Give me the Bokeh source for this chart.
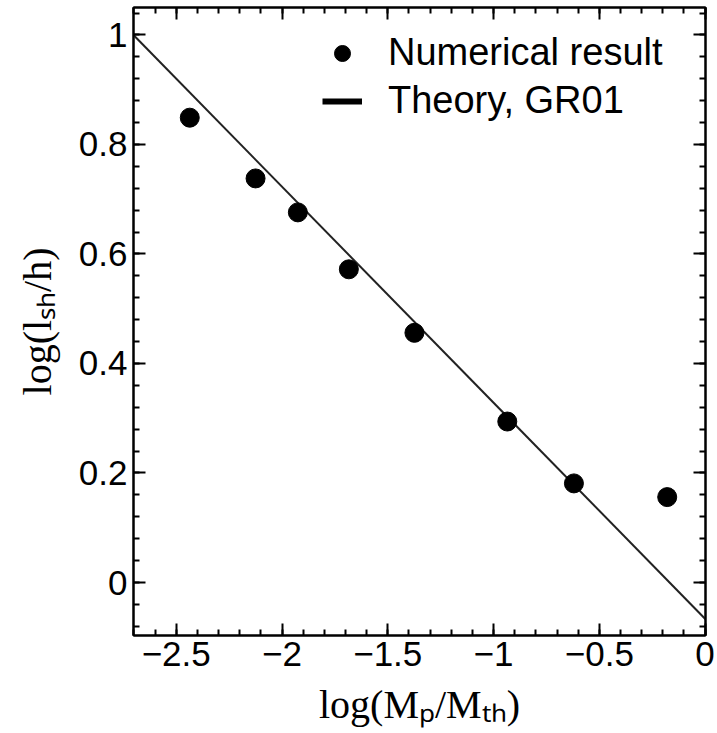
import numpy as np
from bokeh.plotting import figure
from bokeh.models import Range1d, FixedTicker, LinearAxis, Legend, LegendItem
from bokeh.embed import file_html
from bokeh.resources import INLINE

# ---- data ----
log_mass_ratio = [-2.436, -2.125, -1.925, -1.684, -1.374, -0.935, -0.620, -0.179]
log_shock_len = [0.849, 0.738, 0.676, 0.572, 0.456, 0.294, 0.181, 0.156]
theory_x = [-2.702, 0.002]
theory_y = [1.000, -0.067]

x_ticks = [-2.5, -2.0, -1.5, -1.0, -0.5, 0.0]
x_tick_labels = ["\u22122.5", "\u22122", "\u22121.5", "\u22121", "\u22120.5", "0"]
y_ticks = [0.0, 0.2, 0.4, 0.6, 0.8, 1.0]
y_tick_labels = ["0", "0.2", "0.4", "0.6", "0.8", "1"]
x_minor = [round(v, 2) for v in np.arange(-2.7, 0.001, 0.1)]
y_minor = [round(v, 2) for v in np.arange(-0.08, 1.05, 0.04)]

x_title = "log(M\u209a/M\u209c\u2095)"
y_title = "log(l\u209b\u2095/h)"

TICK_FONT = "Liberation Sans"
SERIF = "Liberation Serif"

p = figure(width=717, height=733, output_backend="svg", toolbar_location=None,
           x_range=Range1d(-2.702, 0.002), y_range=Range1d(-0.0968, 1.0502),
           min_border_left=133, min_border_right=12, min_border_top=7, min_border_bottom=98,
           x_axis_location=None, y_axis_location=None)
p.grid.visible = False
p.outline_line_color = "black"
p.outline_line_width = 2
p.background_fill_color = "white"
p.border_fill_color = "white"


def style_axis(ax, ticks, minor, labels, show_labels, standoff):
    ax.ticker = FixedTicker(ticks=ticks, minor_ticks=minor)
    ax.axis_line_color = "black"
    ax.axis_line_width = 2
    ax.major_tick_in = 12
    ax.major_tick_out = 0
    ax.minor_tick_in = 6
    ax.minor_tick_out = 0
    ax.major_tick_line_width = 2
    ax.minor_tick_line_width = 2
    ax.major_tick_line_color = "black"
    ax.minor_tick_line_color = "black"
    if show_labels:
        ov = {str(t): l for t, l in zip(ticks, labels)}
        ov.update({t: l for t, l in zip(ticks, labels)})
        ax.major_label_overrides = ov
        ax.major_label_text_font = TICK_FONT
        ax.major_label_text_font_size = "35px"
        ax.major_label_text_color = "black"
        ax.major_label_standoff = standoff
    else:
        ov = {str(t): "" for t in ticks}
        ov.update({t: "" for t in ticks})
        ax.major_label_overrides = ov
        ax.major_label_text_font_size = "1px"
        ax.major_label_standoff = 0


xb = LinearAxis(); style_axis(xb, x_ticks, x_minor, x_tick_labels, True, 6)
xt = LinearAxis(); style_axis(xt, x_ticks, x_minor, x_tick_labels, False, 0)
yl = LinearAxis(); style_axis(yl, y_ticks, y_minor, y_tick_labels, True, 6)
yr = LinearAxis(); style_axis(yr, y_ticks, y_minor, y_tick_labels, False, 0)

xb.axis_label = x_title
xb.axis_label_text_font = SERIF
xb.axis_label_text_font_size = "40px"
xb.axis_label_text_font_style = "normal"
xb.axis_label_text_color = "black"
xb.axis_label_standoff = 13

yl.axis_label = y_title
yl.axis_label_text_font = SERIF
yl.axis_label_text_font_size = "40px"
yl.axis_label_text_font_style = "normal"
yl.axis_label_text_color = "black"
yl.axis_label_standoff = 16

p.add_layout(xb, "below")
p.add_layout(xt, "above")
p.add_layout(yl, "left")
p.add_layout(yr, "right")

# theory line and points
p.line(theory_x, theory_y, line_width=2, line_color="#222222")
pts = p.scatter(log_mass_ratio, log_shock_len, size=19, fill_color="black", line_color="black")
legend_line = p.line(theory_x, theory_y, line_width=6, line_color="black", visible=False)

legend = Legend(items=[LegendItem(label="Numerical result", renderers=[pts]),
                       LegendItem(label="Theory, GR01", renderers=[legend_line])],
                location=(189, 513), border_line_color=None, background_fill_alpha=0,
                padding=0, margin=0, spacing=5, glyph_width=40, glyph_height=40,
                label_height=40, label_standoff=26, label_text_font=TICK_FONT,
                label_text_font_size="38px", label_text_color="black")
p.add_layout(legend)

open("out.html", "w").write(file_html(p, INLINE))
